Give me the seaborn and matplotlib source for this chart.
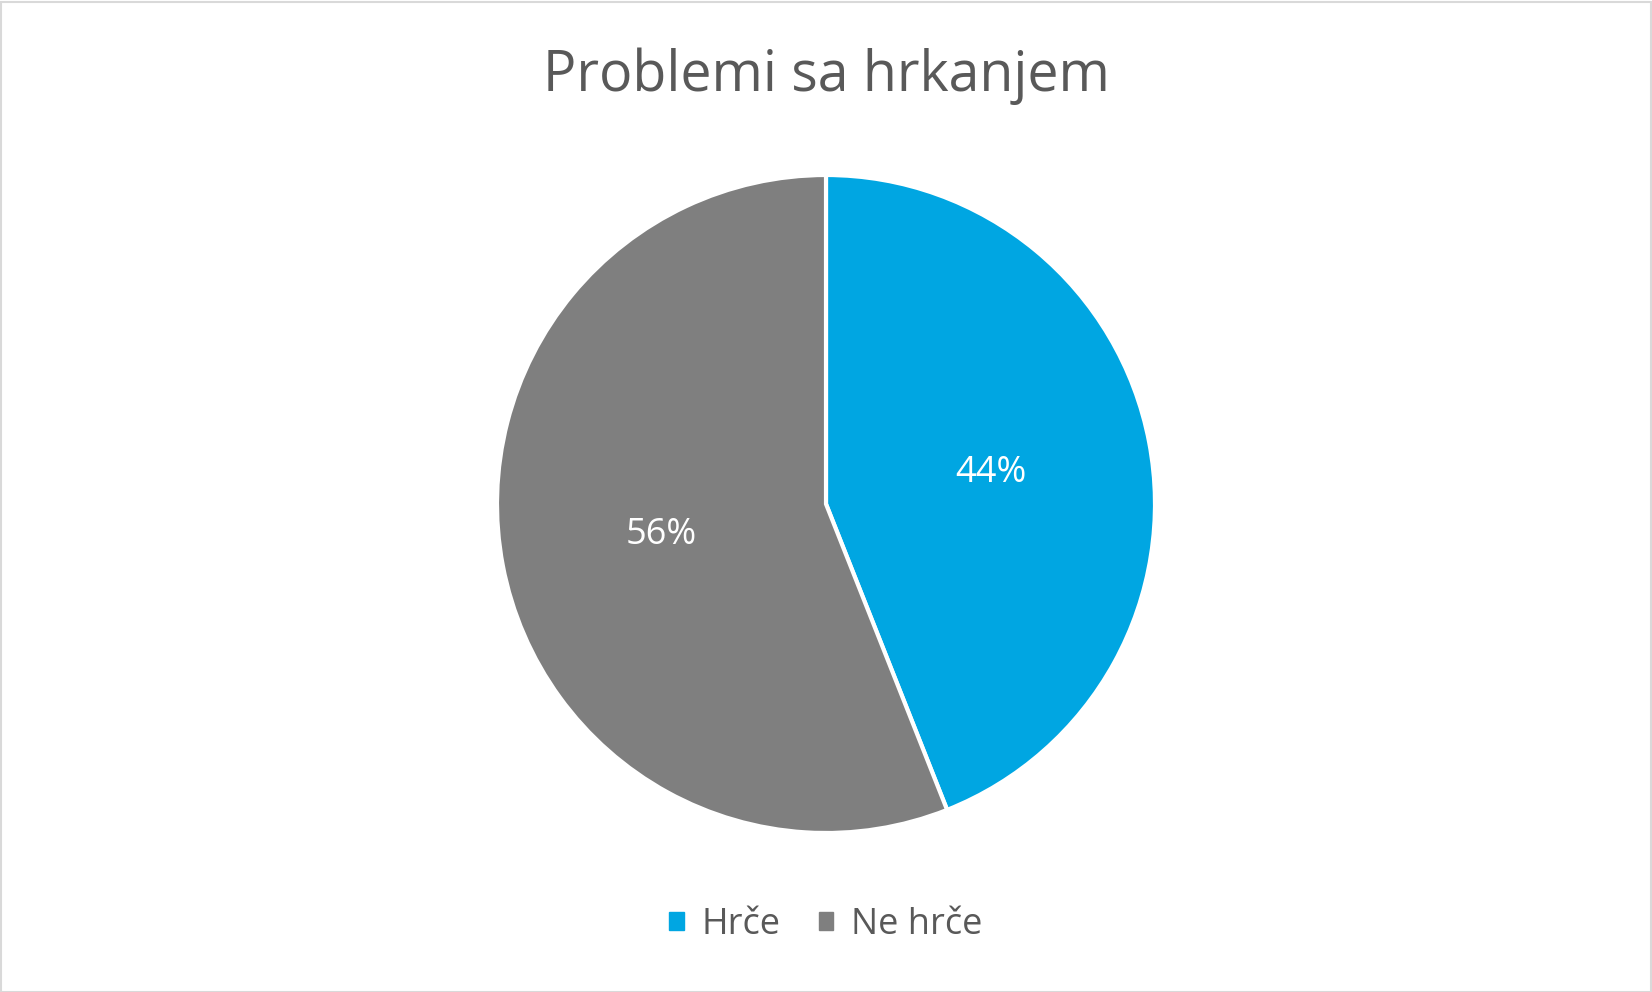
import matplotlib
matplotlib.use("Agg")
import matplotlib.pyplot as plt
import seaborn as sns
from matplotlib.patches import Rectangle

# === Data ===
title = "Problemi sa hrkanjem"
categories = ["Hrče", "Ne hrče"]
shares = [44, 56]
colors = ["#00A6E2", "#7F7F7F"]

# === Style ===
sns.set_theme(style="white")
plt.rcParams["font.family"] = ["Open Sans", "DejaVu Sans"]
text_color = "#595959"

W, H, DPI = 1652, 992, 100
fig = plt.figure(figsize=(W / DPI, H / DPI), dpi=DPI)

# pie placed so that radius ~329px, centre ~(826, 504)
r_px = 329
cx, cy = 826, 504
ax = fig.add_axes([(cx - r_px) / W, (H - cy - r_px) / H, 2 * r_px / W, 2 * r_px / H])

wedges, _, autotexts = ax.pie(
    shares,
    colors=colors,
    startangle=90,
    counterclock=False,
    autopct=lambda p: f"{p:.0f}%",
    pctdistance=0.51,
    radius=1.0,
    wedgeprops=dict(edgecolor="white", linewidth=3),
    textprops=dict(color="white", fontsize=26),
)
ax.set_xlim(-1, 1)
ax.set_ylim(-1, 1)
ax.set_aspect("equal")
ax.axis("off")

fig.text(0.5, 1 - 76 / H, title, ha="center", va="center",
         fontsize=40, color=text_color)

handles = [plt.Rectangle((0, 0), 1, 1, color=c) for c in colors]
fig.legend(handles, categories, loc="center", bbox_to_anchor=(0.5, 1 - 925 / H),
           ncol=2, frameon=False, fontsize=26, labelcolor=text_color,
           handlelength=0.4, handleheight=0.4, handletextpad=0.5, columnspacing=1.05)

# thin chart-area border
fig.patches.append(Rectangle((0.5 / W, 0.5 / H), 1 - 2 / W, 1 - 2 / H,
                             transform=fig.transFigure, fill=False,
                             edgecolor="#D9D9D9", linewidth=1.5))

fig.savefig("out.png", dpi=DPI)
